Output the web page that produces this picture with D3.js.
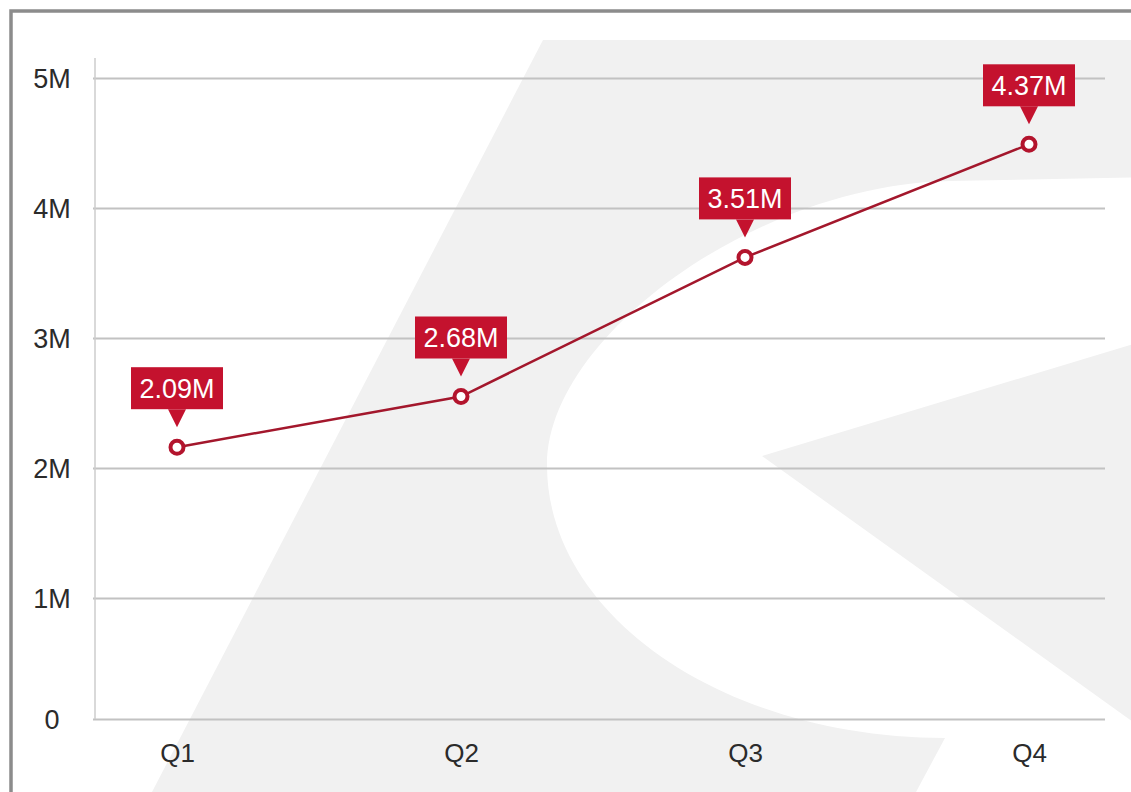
<!DOCTYPE html>
<html>
<head>
<meta charset="utf-8">
<script src="https://cdn.jsdelivr.net/npm/d3@7"></script>
<style>
  html, body { margin: 0; padding: 0; background: #ffffff; }
  svg { display: block; }
</style>
</head>
<body>
<svg id="chart" width="1131" height="792"></svg>
<script>
// ---- data ----
const quarters = ["Q1", "Q2", "Q3", "Q4"];
const revenue = [2.16e6, 2.55e6, 3.62e6, 4.49e6];
const pointLabels = ["2.09M", "2.68M", "3.51M", "4.37M"];
const yTickValues = [0, 1e6, 2e6, 3e6, 4e6, 5e6];
const yTickLabels = ["0", "1M", "2M", "3M", "4M", "5M"];

// ---- setup ----
const W = 1131, H = 792;
const svg = d3.select("#chart");
const FONT = "'Liberation Sans', Arial, sans-serif";

const plotLeft = 95, plotRight = 1105;
const x = d3.scalePoint().domain(quarters).range([177, 1029]);
const y = d3.scaleLinear().domain([0, 1e6, 5e6]).range([719, 598, 78]);

svg.append("rect").attr("width", W).attr("height", H).attr("fill", "#ffffff");

// ---- watermark logo (decorative) ----
const wm = svg.append("g").attr("fill", "#f1f1f1");
wm.append("path").attr("d",
  "M543,40 L1200,40 L1200,738 L945,738 L916,792 L152,792 Z");
wm.append("path").attr("fill", "#ffffff").attr("d",
  "M1200,176 L950,181 C760,184 547,335 547,465 C547,616 725,738 945,738 L1200,738 Z");
wm.append("path").attr("d",
  "M762,456 L1200,324 L1200,770 Z");

// ---- frame ----
svg.append("rect")
  .attr("x", 11).attr("y", 11).attr("width", 1300).attr("height", 1000)
  .attr("fill", "none").attr("stroke", "#8c8c8c").attr("stroke-width", 3.5);

// ---- y axis + grid ----
const yAxis = d3.axisLeft(y)
  .tickValues(yTickValues)
  .tickSize(-(plotRight - plotLeft))
  .tickFormat((d, i) => yTickLabels[i]);

const gy = svg.append("g").attr("transform", `translate(${plotLeft},0)`).call(yAxis);
gy.select(".domain").remove();
gy.selectAll(".tick line")
  .attr("x1", -2)
  .attr("stroke", "#c2c2c2").attr("stroke-width", 2);
gy.selectAll(".tick text")
  .attr("x", -43).attr("dy", "0.36em")
  .attr("text-anchor", "middle")
  .attr("font-family", FONT).attr("font-size", 27)
  .attr("fill", "#2b2b2b");

svg.append("line")
  .attr("x1", plotLeft).attr("x2", plotLeft)
  .attr("y1", y(5e6) - 20).attr("y2", y(0))
  .attr("stroke", "#cccccc").attr("stroke-width", 1.5);

// ---- x axis labels ----
const xAxis = d3.axisBottom(x).tickSize(0);
const gx = svg.append("g").attr("transform", `translate(0,${y(0)})`).call(xAxis);
gx.select(".domain").remove();
gx.selectAll(".tick text")
  .attr("y", 43).attr("dy", 0)
  .attr("font-family", FONT).attr("font-size", 26)
  .attr("fill", "#2b2b2b");

// ---- line ----
const pts = quarters.map((q, i) => ({ q, v: revenue[i], label: pointLabels[i] }));
svg.append("path")
  .datum(pts)
  .attr("fill", "none")
  .attr("stroke", "#a3172c")
  .attr("stroke-width", 2.5)
  .attr("d", d3.line().x(d => x(d.q)).y(d => y(d.v)));

svg.selectAll("circle.pt")
  .data(pts).join("circle")
  .attr("class", "pt")
  .attr("cx", d => x(d.q)).attr("cy", d => y(d.v))
  .attr("r", 6.5)
  .attr("fill", "#ffffff")
  .attr("stroke", "#b3142d")
  .attr("stroke-width", 4);

// ---- callouts ----
const boxW = 92, boxH = 42, gap = 38, tipGap = 20, tipHalf = 9;
const call = svg.selectAll("g.callout").data(pts).join("g")
  .attr("class", "callout")
  .attr("transform", d => `translate(${x(d.q)},${y(d.v)})`);

call.append("rect")
  .attr("x", -boxW / 2).attr("y", -gap - boxH)
  .attr("width", boxW).attr("height", boxH)
  .attr("fill", "#c4122e");
call.append("path")
  .attr("d", `M${-tipHalf},${-gap} L${tipHalf},${-gap} L0,${-tipGap} Z`)
  .attr("fill", "#c4122e");
call.append("text")
  .attr("x", 0).attr("y", -gap - boxH / 2)
  .attr("dy", "0.36em")
  .attr("text-anchor", "middle")
  .attr("font-family", FONT).attr("font-size", 27)
  .attr("fill", "#ffffff")
  .text(d => d.label);
</script>
</body>
</html>
